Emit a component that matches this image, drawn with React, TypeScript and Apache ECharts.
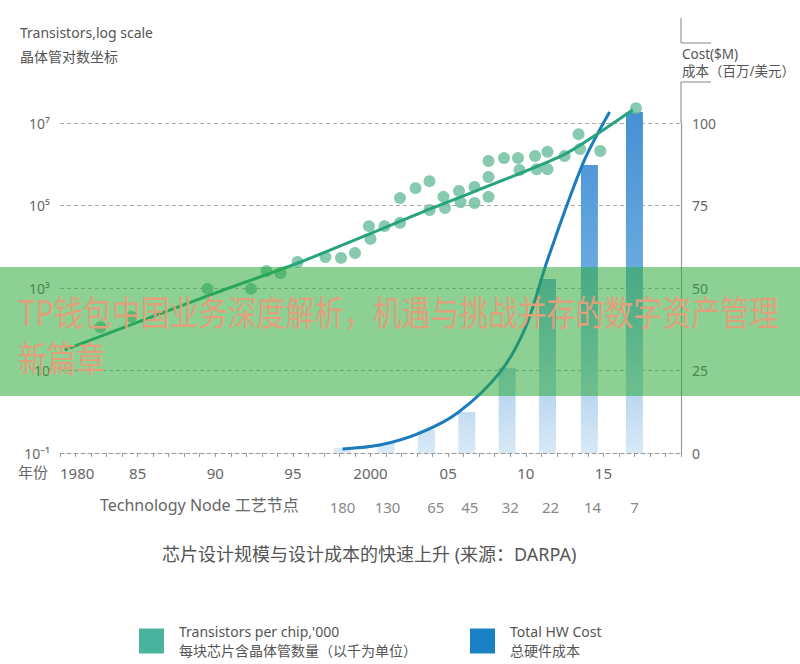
import React, { useEffect, useRef } from "react";
import * as echarts from "echarts";

// ---- data ----
const transYears = [1982.6, 1984.6, 1989.5, 1992.3, 1993.3, 1994.2, 1995.3, 1997.1, 1998.1, 1999.0, 1999.9, 2000.0, 2000.9, 2001.9, 2001.9, 2002.9, 2003.8, 2003.8, 2004.7, 2004.8, 2005.7, 2005.8, 2006.7, 2006.7, 2007.6, 2007.6, 2007.6, 2008.6, 2009.5, 2009.6, 2010.6, 2010.7, 2011.4, 2011.4, 2012.5, 2013.4, 2013.5, 2014.8, 2017.1];
const transCounts = [112, 200, 955, 955, 2570, 2290, 4270, 5620, 5370, 7080, 31600, 15500, 31600, 38000, 151000, 263000, 389000, 77600, 162000, 87100, 224000, 120000, 282000, 115000, 1200000, 490000, 162000, 1410000, 1410000, 724000, 1580000, 759000, 2000000, 759000, 1580000, 5370000, 2340000, 2090000, 22900000];

const trendYears = [1980.3, 1989.5, 1995.5, 2004.0, 2012.4, 2016.9];
const trendCounts = [31.6, 646, 4270, 87100, 1660000, 20900000];

const costLineYears = [1998.2, 2000.6, 2003.2, 2005.6, 2008.3, 2010.0, 2011.4, 2013.7, 2015.4];
const costLineValues = [1.2, 2.4, 6.1, 12.1, 24.2, 38.2, 58.5, 87.9, 103.3];

const barYears = [1998.2, 2001.0, 2003.6, 2006.2, 2008.8, 2011.4, 2014.1, 2017.0];
const barCosts = [1.5, 3, 7, 12.4, 25.8, 52.7, 87.3, 103.3];

const nodeLabels = ["180", "130", "65", "45", "32", "22", "14", "7"];
const nodeYears = [1998.2, 2001.1, 2004.2, 2006.4, 2009.0, 2011.6, 2014.3, 2017.0];

const leftTickLabels = ["10⁻¹", "10", "10³", "10⁵", "10⁷"];
const rightTicks = [0, 25, 50, 75, 100];

const FONT = "'Noto Sans', 'Noto Sans CJK SC', sans-serif";
const GREY = "#666";

// left axis works in u = log10(count) + 1
const toU = (c: number) => Math.log10(c) + 1;

export default function App() {
  const ref = useRef<HTMLDivElement>(null);
  useEffect(() => {
    if (!ref.current) return;
    const chart = echarts.init(ref.current, null, { renderer: "svg" });
    const barGrad = new echarts.graphic.LinearGradient(
      0, 112, 0, 453,
      [
        { offset: 0, color: "#4690d4" },
        { offset: 0.45, color: "#68a9df" },
        { offset: 0.8, color: "#b5d4ee" },
        { offset: 1, color: "#d9e9f6" },
      ],
      true
    );
    const sName = "Transistors per chip,'000";
    const cName = "Total HW Cost";
    const nodeRowU = -54 / 41.25;
    const legendText = { color: "#555", fontSize: 14, lineHeight: 19, padding: [0, 0, 0, 10], fontFamily: FONT };
    const option: any = {
      animation: false,
      backgroundColor: "#fff",
      textStyle: { fontFamily: FONT },
      grid: { left: 60, right: 119, top: 123, bottom: 211 },
      xAxis: {
        type: "value",
        min: 1980,
        max: 2020,
        interval: 5,
        axisLine: { show: true, lineStyle: { color: "#999", type: [4, 3], width: 1 } },
        axisTick: { show: true, length: 4, lineStyle: { color: "#999" } },
        minorTick: { show: true, splitNumber: 5, length: 4, lineStyle: { color: "#999" } },
        splitLine: { show: false },
        axisLabel: {
          color: GREY,
          fontSize: 15,
          margin: 12,
          fontFamily: FONT,
          alignMinLabel: "left",
          formatter: (v: number) => (v === 2020 ? "" : v === 1980 || v === 2000 ? String(v) : String(v).slice(2)),
        },
      },
      yAxis: [
        {
          type: "value",
          min: 0,
          max: 8,
          interval: 2,
          axisLine: { show: false },
          axisTick: { show: false },
          splitLine: { show: true, lineStyle: { color: "#aaa", type: [4, 3] } },
          axisLabel: {
            color: GREY,
            fontSize: 14,
            margin: 10,
            fontFamily: FONT,
            formatter: (v: number) => leftTickLabels[Math.round(v / 2)] ?? "",
          },
        },
        {
          type: "value",
          min: rightTicks[0],
          max: rightTicks[rightTicks.length - 1],
          interval: 25,
          position: "right",
          axisLine: { show: true, lineStyle: { color: "#999", width: 1.2 } },
          axisTick: { show: false },
          splitLine: { show: false },
          axisLabel: { color: GREY, fontSize: 14, margin: 11, fontFamily: FONT },
        },
      ],
      legend: [
        {
          data: [{ name: sName, itemStyle: { color: "#2aa68c" } }],
          left: 139,
          top: 622,
          padding: 0,
          icon: "rect",
          itemWidth: 25,
          itemHeight: 25,
          selectedMode: false,
          formatter: () => "Transistors per chip,'000\n每块芯片含晶体管数量（以千为单位）",
          textStyle: legendText,
        },
        {
          data: [{ name: cName, itemStyle: { color: "#1a82c4" } }],
          left: 470,
          top: 622,
          padding: 0,
          icon: "rect",
          itemWidth: 25,
          itemHeight: 25,
          selectedMode: false,
          formatter: () => "Total HW Cost\n总硬件成本",
          textStyle: legendText,
        },
      ],
      series: [
        {
          name: cName,
          type: "bar",
          yAxisIndex: 1,
          barWidth: 17,
          clip: false,
          itemStyle: { color: barGrad },
          data: barYears.map((y, i) => [y, barCosts[i]]),
          z: 2,
        },
        {
          name: sName,
          type: "scatter",
          yAxisIndex: 0,
          symbolSize: 12,
          clip: false,
          itemStyle: { color: "#72c1a2", opacity: 0.85 },
          data: transYears.map((y, i) => [y, toU(transCounts[i])]),
          z: 3,
        },
        {
          name: cName,
          type: "line",
          yAxisIndex: 1,
          showSymbol: false,
          symbol: "none",
          smooth: 0.3,
          clip: false,
          lineStyle: { color: "#1a7bbf", width: 3 },
          data: costLineYears.map((y, i) => [y, costLineValues[i]]),
          z: 4,
        },
        {
          name: sName,
          type: "line",
          yAxisIndex: 0,
          showSymbol: false,
          symbol: "none",
          smooth: 0.2,
          clip: false,
          lineStyle: { color: "#27a47f", width: 3 },
          data: trendYears.map((y, i) => [y, toU(trendCounts[i])]),
          z: 5,
        },
        {
          name: "nodes",
          type: "scatter",
          yAxisIndex: 0,
          symbolSize: 1,
          clip: false,
          itemStyle: { color: "transparent" },
          label: {
            show: true,
            position: "inside",
            color: GREY,
            fontSize: 15,
            fontFamily: FONT,
            formatter: (p: any) => p.name,
          },
          data: nodeYears.map((y, i) => ({ name: nodeLabels[i], value: [y, nodeRowU] })),
          z: 5,
        },
      ],
      graphic: [
        { type: "text", left: 20, top: 20, style: { text: "Transistors,log scale\n晶体管对数坐标", fill: "#555", font: `14px ${FONT}`, lineHeight: 24 } },
        { type: "line", shape: { x1: 681, y1: 18, x2: 681, y2: 43 }, style: { stroke: "#999", lineWidth: 1.2 } },
        { type: "line", shape: { x1: 681, y1: 43, x2: 711, y2: 43 }, style: { stroke: "#999", lineWidth: 1.2 } },
        { type: "line", shape: { x1: 681, y1: 82, x2: 711, y2: 82 }, style: { stroke: "#999", lineWidth: 1.2 } },
        { type: "line", shape: { x1: 681, y1: 82, x2: 681, y2: 123 }, style: { stroke: "#999", lineWidth: 1.2 } },
        { type: "text", left: 682, top: 45, style: { text: "Cost($M)\n成本（百万/美元）", fill: "#555", font: `13.5px ${FONT}`, lineHeight: 17 } },
        { type: "text", left: 18, top: 464, style: { text: "年份", fill: GREY, font: `15px ${FONT}` } },
        { type: "text", left: 100, top: 497, style: { text: "Technology Node 工艺节点", fill: GREY, font: `16px ${FONT}` } },
        { type: "text", left: 162, top: 545, style: { text: "芯片设计规模与设计成本的快速上升 (来源：DARPA)", fill: "#555", font: `18px ${FONT}` } },
        { type: "rect", left: 0, top: 267, z: 100, shape: { width: 800, height: 129 }, style: { fill: "rgba(46,170,60,0.55)" } },
        {
          type: "text",
          left: 18,
          top: 288,
          z: 101,
          scaleY: 1.22,
          style: {
            text: "TP钱包中国业务深度解析，机遇与挑战并存的数字资产管理\n新篇章",
            fill: "#e0a07c",
            font: `29px 'Noto Sans CJK SC', sans-serif`,
            lineHeight: 37,
          },
        },
      ],
    };
    chart.setOption(option);
    return () => chart.dispose();
  }, []);
  return <div ref={ref} style={{ position: "fixed", left: 0, top: 0, width: 800, height: 664 }} />;
}
